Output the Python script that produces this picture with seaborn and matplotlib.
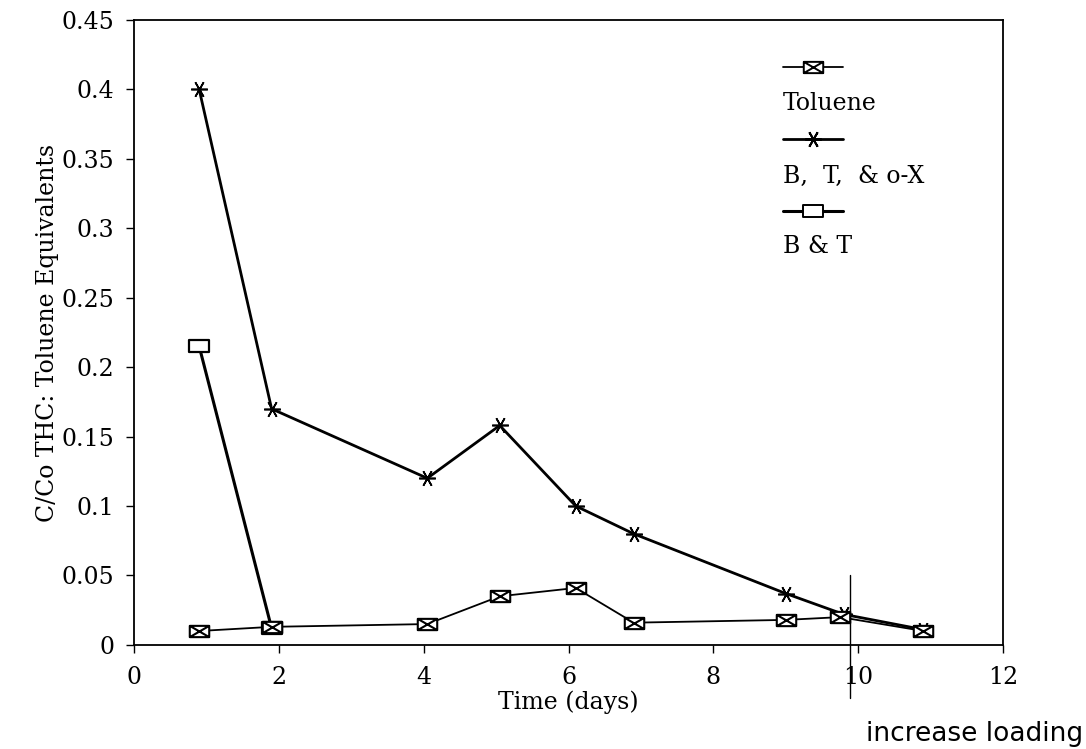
import numpy as np
import pandas as pd
import matplotlib
matplotlib.use("Agg")
import matplotlib.pyplot as plt
from matplotlib.path import Path
import seaborn as sns

# Sampling times (days) and measured C/Co values
toluene_days = [0.9, 1.9, 4.05, 5.05, 6.1, 6.9, 9.0, 9.75, 10.9]
toluene_vals = [0.010, 0.013, 0.015, 0.035, 0.041, 0.016, 0.018, 0.020, 0.010]

btx_days = [0.9, 1.9, 4.05, 5.05, 6.1, 6.9, 9.0, 9.8, 10.9]
btx_vals = [0.400, 0.170, 0.120, 0.158, 0.100, 0.080, 0.037, 0.022, 0.011]

bt_days = [0.9, 1.9]
bt_vals = [0.215, 0.012]

x_ticks = [0, 2, 4, 6, 8, 10, 12]
y_ticks = [0, 0.05, 0.1, 0.15, 0.2, 0.25, 0.3, 0.35, 0.4, 0.45]
y_tick_labels = ["0", "0.05", "0.1", "0.15", "0.2", "0.25", "0.3", "0.35", "0.4", "0.45"]

loading_day = 9.88

sns.set_style("ticks")
plt.rcParams["font.family"] = ["DejaVu Serif"]
plt.rcParams["text.color"] = "black"
plt.rcParams["axes.labelcolor"] = "black"

# Custom marker shapes: boxed cross, open box, six-armed asterisk
W, H = 1.0, 0.58
box_x = Path(
    [(-W, -H), (W, -H), (W, H), (-W, H), (-W, -H),
     (-W, -H), (W, H), (-W, H), (W, -H)],
    [Path.MOVETO, Path.LINETO, Path.LINETO, Path.LINETO, Path.CLOSEPOLY,
     Path.MOVETO, Path.LINETO, Path.MOVETO, Path.LINETO],
)
box_open = Path(
    [(-W, -H), (W, -H), (W, H), (-W, H), (-W, -H)],
    [Path.MOVETO, Path.LINETO, Path.LINETO, Path.LINETO, Path.CLOSEPOLY],
)
star = (6, 2, 90)

fig = plt.figure(figsize=(10.86, 7.49), dpi=100)
ax = fig.add_axes([0.1234, 0.139, 0.8002, 0.8343])

tol = pd.DataFrame({"day": toluene_days, "val": toluene_vals})
btx = pd.DataFrame({"day": btx_days, "val": btx_vals})
bt = pd.DataFrame({"day": bt_days, "val": bt_vals})

sns.lineplot(data=btx, x="day", y="val", ax=ax, sort=False, estimator=None,
             color="black", lw=2.0, marker=star, markersize=12,
             markeredgewidth=1.2, markeredgecolor="black")
sns.lineplot(data=bt, x="day", y="val", ax=ax, sort=False, estimator=None,
             color="black", lw=2.2, marker=box_open, markersize=14,
             markerfacecolor="white", markeredgewidth=1.6, markeredgecolor="black")
sns.lineplot(data=tol, x="day", y="val", ax=ax, sort=False, estimator=None,
             color="black", lw=1.3, marker=box_x, markersize=14,
             markerfacecolor="white", markeredgewidth=1.5, markeredgecolor="black")

ax.set_xlim(0, 12)
ax.set_ylim(0, 0.45)
ax.set_xticks(x_ticks)
ax.set_xticklabels([str(t) for t in x_ticks])
ax.set_yticks(y_ticks)
ax.set_yticklabels(y_tick_labels)
ax.tick_params(axis="both", direction="out", length=6, width=1.0,
               labelsize=17, colors="black")
ax.tick_params(axis="x", pad=9)
ax.tick_params(axis="y", pad=8)
ax.set_xlabel("Time (days)", fontsize=17, labelpad=1, color="black")
ax.set_ylabel("C/Co THC: Toluene Equivalents", fontsize=17, labelpad=2,
              color="black")
for s in ax.spines.values():
    s.set_visible(True)
    s.set_linewidth(1.3)
    s.set_color("black")

# Legend: line sample with its label written underneath
legend_rows = [
    (0.925, 0.866, box_x, 1.3, "Toluene", 14),
    (0.810, 0.749, star, 2.0, "B,  T,  & o-X", 12),
    (0.694, 0.638, box_open, 2.2, "B & T", 14),
]
for ly, ty, mk, lw, label, ms in legend_rows:
    ax.plot([0.747, 0.816], [ly, ly], transform=ax.transAxes, color="black",
            lw=lw, clip_on=False)
    ax.plot([0.7815], [ly], transform=ax.transAxes, marker=mk, markersize=ms,
            markerfacecolor="white", markeredgecolor="black",
            markeredgewidth=1.4, color="black", clip_on=False)
    ax.text(0.747, ty, label, transform=ax.transAxes, fontsize=17,
            ha="left", va="center", color="black")

# Marker for the day the loading was raised
ax.plot([loading_day, loading_day], [0.05, -0.038], color="black", lw=1.0,
        clip_on=False)
fig.text(0.997, 0.02, "increase loading", ha="right", va="center",
         fontsize=19, family="DejaVu Sans", color="black")

fig.savefig("out.png", dpi=100, facecolor="white")
